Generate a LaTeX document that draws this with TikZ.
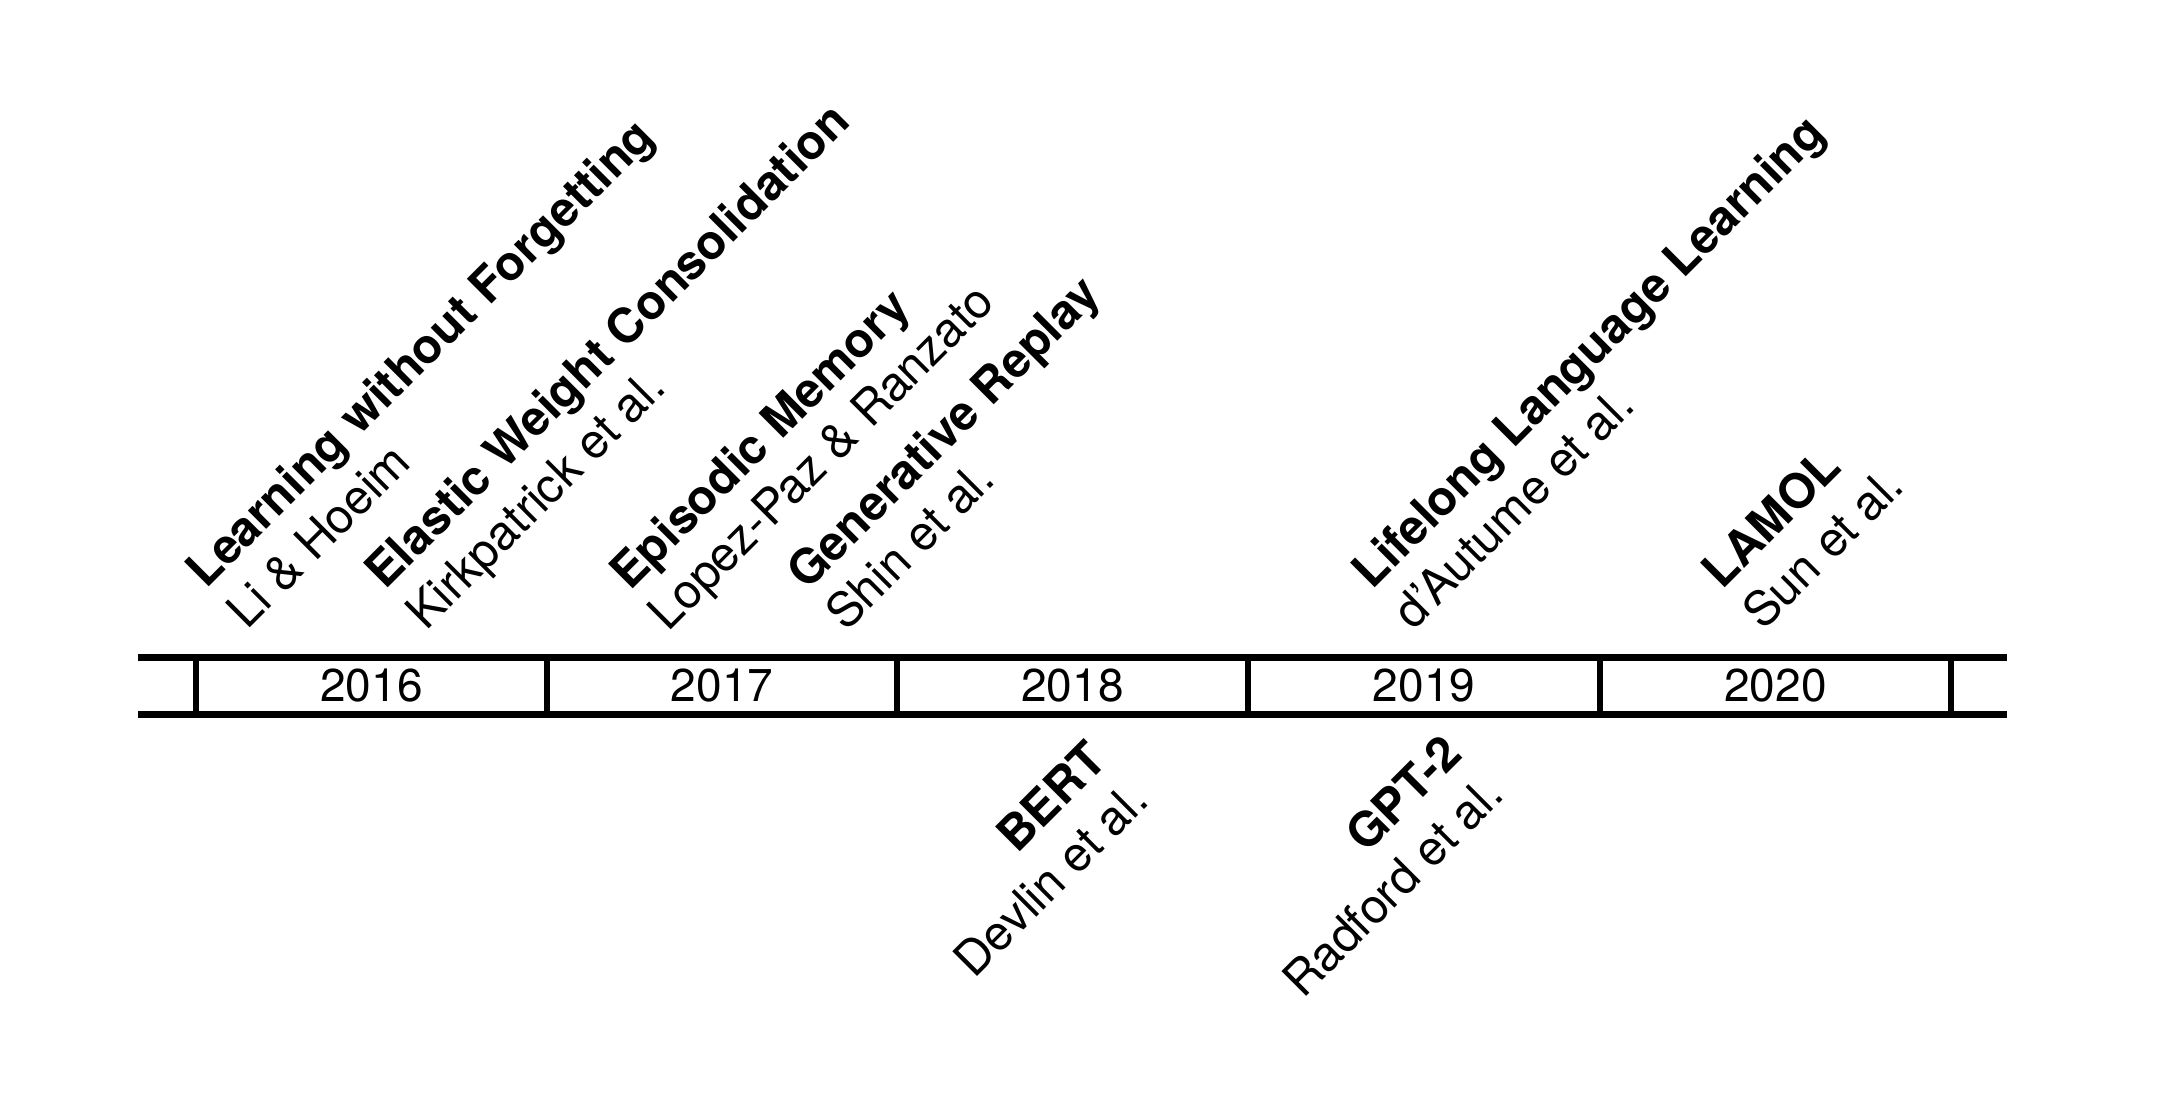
\documentclass[tikz,border=0pt]{standalone}
\usepackage{fontspec}
\setmainfont{TeX Gyre Heros}
\begin{document}
\begin{tikzpicture}[x=0.5pt,y=-0.5pt,
  ttl/.style={font=\fontsize{24}{29}\selectfont\bfseries, rotate=45, inner sep=0pt},
  auth/.style={font=\fontsize{24}{29}\selectfont, rotate=45, inner sep=0pt},
  up/.style={anchor=base west},
  down/.style={anchor=base east},
  rail/.style={line width=3.5pt},
  divider/.style={line width=3pt},
  year/.style={font=\fontsize{23}{27}\selectfont, inner sep=0pt, anchor=center}]
\useasboundingbox (0,0) rectangle (2170,1102);
% timeline
\draw[rail] (138,657) -- (2007,657);
\draw[rail] (138,714) -- (2007,714);
\foreach \x in {196,547,897,1248,1600,1951}
  \draw[divider] (\x,657) -- (\x,714);
\node[year] (y2016) at (371.5,686) {2016};
\node[year] (y2017) at (722,686) {2017};
\node[year] (y2018) at (1072.5,686) {2018};
\node[year] (y2019) at (1424,686) {2019};
\node[year] (y2020) at (1775.5,686) {2020};
% upper labels
\node[ttl,up] (lwf) at (206,590) {Learning without Forgetting};
\node[auth,up] (lwfa) at (247,631) {Li \& Hoeim};
\node[ttl,up] (ewc) at (385,591) {Elastic Weight Consolidation};
\node[auth,up] (ewca) at (426,632) {Kirkpatrick et al.};
\node[ttl,up] (em) at (630,592) {Episodic Memory};
\node[auth,up] (ema) at (668,633) {Lopez-Paz \& Ranzato};
\node[ttl,up] (gr) at (807,592) {Generative Replay};
\node[auth,up] (gra) at (846,633) {Shin et al.};
\node[ttl,up] (lll) at (1372,591) {Lifelong Language Learning};
\node[auth,up] (llla) at (1413,632) {d’Autume et al.};
\node[ttl,up] (lamol) at (1722,591) {LAMOL};
\node[auth,up] (lamola) at (1763,632) {Sun et al.};
% lower labels
\node[ttl,down] (bert) at (1110,762) {BERT};
\node[auth,down] (berta) at (1151,803) {Devlin et al.};
\node[ttl,down] (gpt) at (1465,756) {GPT-2};
\node[auth,down] (gpta) at (1506,797) {Radford et al.};
\end{tikzpicture}
\end{document}
